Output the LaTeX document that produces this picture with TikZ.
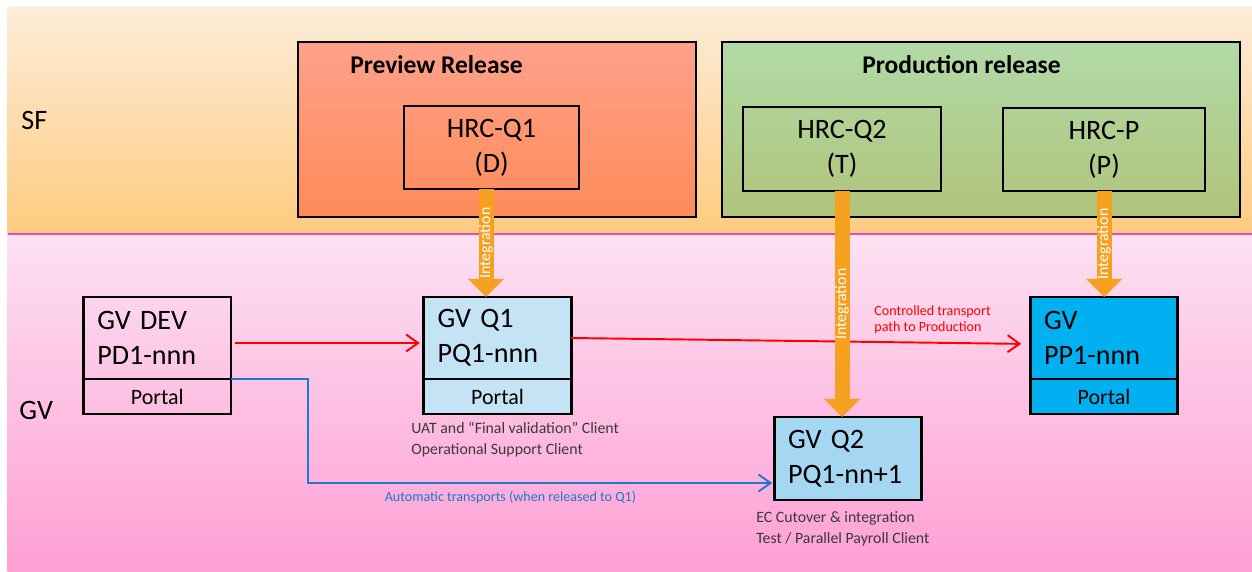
\documentclass[tikz,border=0pt]{standalone}
\usepackage{fontspec}
\setmainfont{Carlito}
\usetikzlibrary{arrows.meta}
\usetikzlibrary{positioning}

\definecolor{sftop}{HTML}{FDEDD9}
\definecolor{sfbot}{HTML}{FECB80}
\definecolor{gvtop}{HTML}{FDE1F2}
\definecolor{gvbot}{HTML}{FE9FD4}
\definecolor{prevtop}{HTML}{FFA18B}
\definecolor{prevbot}{HTML}{FF8B58}
\definecolor{prodtop}{HTML}{B2DAA7}
\definecolor{prodbot}{HTML}{B0C47A}
\definecolor{qone}{HTML}{C4E4F6}
\definecolor{qtwo}{HTML}{A6D7F2}
\definecolor{prd}{HTML}{00B0F0}
\definecolor{integ}{HTML}{F5A01E}
\definecolor{bandline}{HTML}{E24FB2}
\definecolor{autoblue}{HTML}{1F78C8}
\definecolor{notetext}{HTML}{3A3A3A}

\begin{document}
\begin{tikzpicture}[
            line width=1.6pt,
            bigfont/.style={font=\fontsize{16}{20}\selectfont},
            title/.style={font=\bfseries\fontsize{14.5}{17}\selectfont},
            hrcbox/.style={draw, bigfont, align=center, outer sep=0pt},
            gvbox/.style={draw, bigfont, align=left, outer sep=0pt,
                minimum width=29.5mm, minimum height=16.4mm,
                text width=24mm, inner xsep=2.75mm},
            portal/.style={draw, font=\fontsize{12.5}{15}\selectfont, outer sep=0pt,
                minimum width=29.5mm, minimum height=7mm, inner sep=0pt},
            ctrl/.style={draw=red, line width=1.1pt,
                -{Straight Barb[length=2.4mm,width=3.4mm]}},
            autoline/.style={draw=autoblue, line width=1.1pt,
                -{Straight Barb[length=2.4mm,width=3.4mm]}},
            intarrow/.style={draw=integ, line width=3mm,
                -{Triangle[length=3.6mm,width=7.2mm,line width=0pt,fill=integ]}},
            intlabel/.style={midway, rotate=90, text=white,
                font=\fontsize{9}{10}\selectfont},
            note/.style={text=notetext, align=left, inner sep=0pt,
                font=\fontsize{9}{12}\selectfont},
    ]
    \useasboundingbox (0,0) rectangle (250.4mm,-114.4mm);

    % bands
    \shade[top color=sftop, bottom color=sfbot] (1.5mm,-1.4mm) rectangle (250.4mm,-46.8mm);
    \shade[top color=gvtop, bottom color=gvbot] (1.5mm,-46.8mm) rectangle (250.4mm,-114.4mm);
    \draw[bandline, line width=0.3mm] (1.5mm,-46.8mm) -- (250.4mm,-46.8mm);
    \node[bigfont, anchor=west, inner sep=0pt] (sflabel) at (4mm,-24mm) {SF};
    \node[bigfont, anchor=west, inner sep=0pt] (gvlabel) at (3.6mm,-82mm) {GV};

    % releases
    \shadedraw[top color=prevtop, bottom color=prevbot] (59.6mm,-8.4mm) rectangle (139.2mm,-43.4mm);
    \shadedraw[top color=prodtop, bottom color=prodbot] (144.4mm,-8.4mm) rectangle (248mm,-43.4mm);
    \node[title] (prevtitle) at (87.3mm,-13mm) {Preview Release};
    \node[title] (prodtitle) at (192.3mm,-13mm) {Production release};

    \node[hrcbox, minimum width=35mm, minimum height=16.6mm] (hq1) at (98.3mm,-29.5mm) {HRC-Q1\\(D)};
    \node[hrcbox, minimum width=39.6mm, minimum height=16.8mm] (hq2) at (168.4mm,-29.8mm) {HRC-Q2\\(T)};
    \node[hrcbox, minimum width=40.4mm, minimum height=16.6mm] (hp) at (220.8mm,-29.9mm) {HRC-P\\(P)};

    % GV systems
    \node[gvbox] (dev) at (31.45mm,-67.6mm) {GV DEV\\PD1-nnn};
    \node[portal, below=0pt of dev] (devportal) {Portal};
    \node[gvbox, fill=qone] (gq1) at (99.5mm,-67.6mm) {GV Q1\\PQ1-nnn};
    \node[portal, fill=qone, below=0pt of gq1] (gq1portal) {Portal};
    \node[gvbox, fill=prd] (gpp) at (220.8mm,-67.6mm) {GV\\PP1-nnn};
    \node[portal, fill=prd, below=0pt of gpp] (gppportal) {Portal};
    \node[gvbox, fill=qtwo, minimum height=16.6mm] (gq2) at (169.6mm,-91.7mm) {GV Q2\\PQ1-nn+1};

    \node[note, anchor=west] (gq1note) at (82mm,-87.9mm) {UAT and “Final validation” Client\\Operational Support Client};
    \node[note, anchor=west] (gq2note) at (151mm,-105.8mm) {EC Cutover \& integration\\Test / Parallel Payroll Client};

    % transports
    \draw[ctrl, shorten <=0.8mm, shorten >=0.8mm] ([yshift=-1mm]dev.east) -- ([yshift=-1mm]gq1.west);
    \draw[ctrl, shorten >=1.8mm] (gq1.east) -- ([yshift=-1.2mm]gpp.west);
    \node[text=red, align=left, inner sep=0pt, anchor=west,
        font=\fontsize{8}{9.2}\selectfont] (ctrlnote) at (174.6mm,-64mm) {Controlled transport\\path to Production};

    \coordinate (autobend) at (61.6mm,-96.6mm);
    \draw[autoline, shorten >=0.4mm] (dev.south east) -| (autobend) -- (autobend -| gq2.west);
    \node[text=autoblue, inner sep=0pt, font=\fontsize{8}{10}\selectfont] (autonote) at (102.1mm,-99.4mm) {Automatic transports (when released to Q1)};

    % integration
    \draw[intarrow] ([xshift=-1.1mm]hq1.south) -- ([xshift=-1.1mm]hq1.south |- gq1.north) node[intlabel] {Integration};
    \draw[intarrow] (hq2.south) -- (hq2.south |- gq2.north) node[intlabel] {Integration};
    \draw[intarrow] (hp.south) -- (gpp.north) node[intlabel] {Integration};
    \end{tikzpicture}
\end{document}
